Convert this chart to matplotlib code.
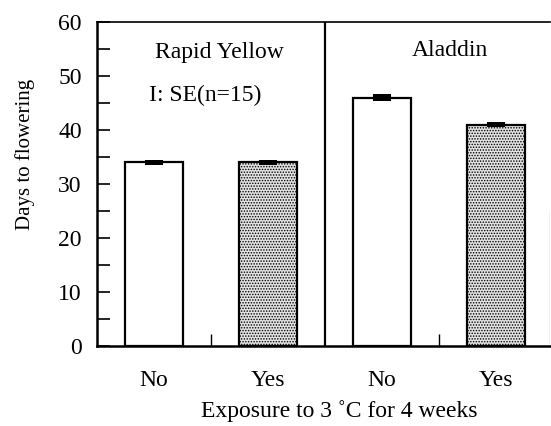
import matplotlib
matplotlib.use("Agg")
import matplotlib.pyplot as plt
from matplotlib.ticker import MultipleLocator, FixedLocator

# data
cultivars = ["Rapid Yellow", "Aladdin"]
exposure = ["No", "Yes", "No", "Yes"]
days = [34.0, 34.0, 46.0, 41.0]
se = [0.4, 0.4, 0.7, 0.5]
shaded = [False, True, False, True]

plt.rcParams["font.family"] = ["Liberation Serif", "DejaVu Serif"]
plt.rcParams["hatch.linewidth"] = 0.7
plt.rcParams["hatch.color"] = "#444444"

fig = plt.figure(figsize=(5.51, 4.26), dpi=100)
ax = fig.add_axes([0.176, 0.188, 0.822, 0.760])

pos = list(range(len(days)))
for p, d, s in zip(pos, days, shaded):
    ax.bar(p, d, width=0.51, facecolor="#e2e2e2" if s else "white",
           edgecolor="black", linewidth=1.6,
           hatch="......" if s else None, zorder=2)
ax.errorbar(pos, days, yerr=se, fmt="none", ecolor="black",
            elinewidth=13, capsize=0, zorder=3)

ax.set_xlim(-0.5, 3.47)
ax.set_ylim(0, 60)
ax.axvline(1.5, color="black", lw=1.6, zorder=1)
ax.axvline(3.47, ymin=0, ymax=0.42, color="black", lw=0.8, zorder=1)

ax.yaxis.set_major_locator(MultipleLocator(10))
ax.yaxis.set_minor_locator(MultipleLocator(5))
ax.tick_params(axis="y", which="both", direction="in", length=9, width=1.2,
               labelsize=17, pad=11)
ax.set_xticks(pos)
ax.set_xticklabels(exposure)
ax.xaxis.set_minor_locator(FixedLocator([0.5, 2.5]))
ax.tick_params(axis="x", which="major", length=0, labelsize=17, pad=17)
ax.tick_params(axis="x", which="minor", direction="in", length=9, width=1.0)

for side in ["left", "bottom"]:
    ax.spines[side].set_linewidth(1.8)
ax.spines["top"].set_linewidth(1.2)
ax.spines["right"].set_visible(False)

ax.set_ylabel("Days to flowering", fontsize=15)
ax.yaxis.set_label_coords(-0.137, 0.59)
ax.set_xlabel("Exposure to 3 \u02daC for 4 weeks", fontsize=17)
ax.xaxis.set_label_coords(0.534, -0.168)

ax.text(0.57, 54.3, cultivars[0], fontsize=17, ha="center", va="center")
ax.text(0.45, 46.5, "I: SE(n=15)", fontsize=17, ha="center", va="center")
ax.text(2.59, 54.8, cultivars[1], fontsize=17, ha="center", va="center")

fig.savefig("out.png", dpi=100)
